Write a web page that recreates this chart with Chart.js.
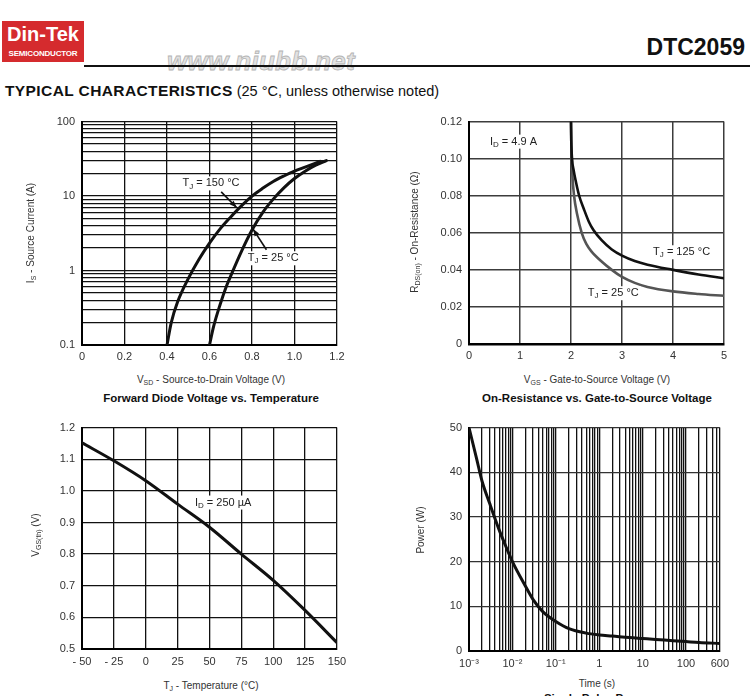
<!DOCTYPE html>
<html><head><meta charset="utf-8">
<script src="https://cdn.jsdelivr.net/npm/chart.js@4.4.1/dist/chart.umd.min.js"></script>
<style>
body{margin:0;background:#fff;width:750px;height:696px;overflow:hidden;position:relative;font-family:"Liberation Sans",Arial,sans-serif;color:#222}
.abs{position:absolute;white-space:nowrap}
canvas{position:absolute}
.c{transform:translate(-50%,-50%)}
.rot{transform:translate(-50%,-50%) rotate(-90deg)}
.ax{font-size:10px;color:#333}
.cap{font-size:11.5px;font-weight:bold;color:#111}
sub{font-size:7px;vertical-align:-2px;line-height:0}
</style></head><body>
<div class="abs" style="left:2px;top:21px;width:82px;height:41px;background:#d52b2e;"></div>
<div class="abs c" style="left:43px;top:34px;color:#fff;font-weight:bold;font-size:20px;">Din-Tek</div>
<div class="abs c" style="left:43px;top:53px;color:#fff;font-weight:bold;font-size:8px;letter-spacing:-0.2px;">SEMICONDUCTOR</div>
<div class="abs c" style="left:261px;top:61px;color:#e2e2e2;font-weight:bold;font-style:italic;font-size:26px;-webkit-text-stroke:0.8px #b4b4b4;letter-spacing:0.3px;">www.niubb.net</div>
<div class="abs" style="left:84px;top:65px;width:666px;height:2px;background:#111;"></div>
<div class="abs" style="right:5px;top:34px;font-weight:bold;font-size:23px;color:#111;">DTC2059</div>
<div class="abs" style="left:5px;top:82px;font-size:14.5px;color:#111;"><b style="font-size:15.5px;letter-spacing:0.4px;">TYPICAL CHARACTERISTICS</b> (25 °C, unless otherwise noted)</div>

<canvas id="c1" width="360" height="258" style="left:0px;top:108px"></canvas>
<canvas id="c2" width="360" height="258" style="left:375px;top:108px"></canvas>
<canvas id="c3" width="360" height="258" style="left:0px;top:414px"></canvas>
<canvas id="c4" width="360" height="258" style="left:375px;top:414px"></canvas>

<div class="abs rot ax" style="left:30px;top:233px;">I<sub>S</sub> - Source Current (A)</div>
<div class="abs c ax" style="left:211px;top:379px;">V<sub>SD</sub> - Source-to-Drain Voltage (V)</div>
<div class="abs c cap" style="left:211px;top:398px;">Forward Diode Voltage vs. Temperature</div>

<div class="abs rot ax" style="left:414px;top:232px;">R<sub>DS(on)</sub> - On-Resistance (Ω)</div>
<div class="abs c ax" style="left:597px;top:379px;">V<sub>GS</sub> - Gate-to-Source Voltage (V)</div>
<div class="abs c cap" style="left:597px;top:398px;">On-Resistance vs. Gate-to-Source Voltage</div>

<div class="abs rot ax" style="left:35px;top:535px;">V<sub>GS(th)</sub> (V)</div>
<div class="abs c ax" style="left:211px;top:685px;">T<sub>J</sub> - Temperature (°C)</div>

<div class="abs rot ax" style="left:420px;top:530px;">Power (W)</div>
<div class="abs c ax" style="left:597px;top:683px;">Time (s)</div>
<div class="abs c cap" style="left:597px;top:698px;">Single Pulse Power</div>

<script>
// ---------- data ----------
// Chart 1: forward diode
const vsd150 = [0.40,0.42,0.45,0.50,0.55,0.60,0.65,0.70,0.75,0.80,0.85,0.90,0.95,1.00,1.05,1.12];
const is150  = [0.10,0.20,0.38,0.78,1.41,2.34,3.63,5.25,7.4,10.0,12.7,15.7,18.6,21.6,24.5,29.2];
const vsd25  = [0.60,0.62,0.65,0.68,0.70,0.75,0.80,0.85,0.90,0.95,1.00,1.05,1.10,1.15];
const is25   = [0.10,0.18,0.35,0.62,0.85,1.8,3.5,6.0,9.1,12.9,17.2,21.6,26.0,30.0];
const fwdXTicks = [0,0.2,0.4,0.6,0.8,1.0,1.2];
const fwdXLabels = ['0','0.2','0.4','0.6','0.8','1.0','1.2'];
const fwdYMajor = [0.1,1,10,100];
const fwdYLabels = ['0.1','1','10','100'];

// Chart 2: on-resistance vs VGS
const vgs125 = [2.00,2.005,2.02,2.05,2.10,2.16,2.25,2.35,2.44,2.60,2.80,3.00,3.25,3.50,4.00,4.50,5.00];
const rds125 = [0.120,0.110,0.100,0.094,0.087,0.080,0.073,0.066,0.0615,0.056,0.051,0.0477,0.0448,0.0428,0.0400,0.0375,0.0355];
const vgs25  = [2.00,2.005,2.015,2.03,2.06,2.12,2.21,2.30,2.40,2.60,2.80,3.00,3.25,3.50,4.00,4.50,5.00];
const rds25  = [0.120,0.110,0.100,0.090,0.080,0.070,0.060,0.054,0.050,0.0445,0.0400,0.0362,0.0330,0.0308,0.0284,0.0270,0.0260];
const rdsXTicks = [0,1,2,3,4,5];
const rdsXLabels = ['0','1','2','3','4','5'];
const rdsYTicks = [0,0.02,0.04,0.06,0.08,0.10,0.12];
const rdsYLabels = ['0','0.02','0.04','0.06','0.08','0.10','0.12'];

// Chart 3: threshold voltage vs temperature
const tj  = [-50,-25,0,25,50,75,100,125,150];
const vth = [1.152,1.095,1.032,0.958,0.885,0.800,0.717,0.622,0.520];
const thXTicks = [-50,-25,0,25,50,75,100,125,150];
const thXLabels = ['- 50','- 25','0','25','50','75','100','125','150'];
const thYTicks = [0.5,0.6,0.7,0.8,0.9,1.0,1.1,1.2];
const thYLabels = ['0.5','0.6','0.7','0.8','0.9','1.0','1.1','1.2'];

// Chart 4: single pulse power
const tPulse = [0.001,0.0015,0.002,0.003,0.005,0.007,0.01,0.02,0.03,0.05,0.1,0.2,0.5,1,2,5,10,20,50,100,200,600];
const pPulse = [50,43,38,33,27,23.5,20,14.5,11.5,8.8,6.6,5.0,4.0,3.6,3.35,3.0,2.8,2.6,2.3,2.1,1.9,1.7];
const pwXMajor = [0.001,0.01,0.1,1,10,100,600];
const pwXLabels = ['10\u207B\u00B3','10\u207B\u00B2','10\u207B\u00B9','1','10','100','600'];
const pwYTicks = [0,10,20,30,40,50];
const pwYLabels = ['0','10','20','30','40','50'];

// ---------- helpers ----------
Chart.defaults.font.family = '"Liberation Sans", Arial, sans-serif';
Chart.defaults.font.size = 11;
Chart.defaults.color = '#333';

function logGrid(minExp, maxExp, maxVal){ // 1..9 x 10^k grid values
  const out=[];
  for(let e=minExp;e<=maxExp;e++) for(let m=1;m<=9;m++){
    const v=+(m*Math.pow(10,e)).toPrecision(6);
    if(v<=maxVal+1e-12) out.push(v);
  }
  return out;
}
function pts(xs,ys){return xs.map((x,i)=>({x:x,y:ys[i]}));}
function labelFor(vals,labels){return v=>{const i=vals.findIndex(t=>Math.abs(t-v)<=Math.abs(v)*1e-6+1e-12);return i>=0?labels[i]:'';};}

function drawRich(ctx,x,y,parts,align){
  const big='11px "Liberation Sans", Arial, sans-serif', small='8px "Liberation Sans", Arial, sans-serif';
  let w=0;
  parts.forEach(p=>{ctx.font=p[1]?small:big;w+=ctx.measureText(p[0]).width;});
  let cx = align==='left'?x:x-w/2;
  ctx.fillStyle='#fff';ctx.fillRect(cx-2,y-7,w+4,14);
  ctx.textBaseline='middle';ctx.textAlign='left';ctx.fillStyle='#222';
  parts.forEach(p=>{ctx.font=p[1]?small:big;ctx.fillText(p[0],cx,y+(p[1]?3:0));cx+=ctx.measureText(p[0]).width;});
}
function notes(items){
  return {id:'notes',afterDatasetsDraw(chart){
    const ctx=chart.ctx,xs=chart.scales.x,ys=chart.scales.y;
    ctx.save();
    items.forEach(it=>{
      drawRich(ctx,xs.getPixelForValue(it.x),ys.getPixelForValue(it.y),it.parts,it.align);
      if(it.arrow){
        const x1=xs.getPixelForValue(it.arrow[0]),y1=ys.getPixelForValue(it.arrow[1]);
        const x2=xs.getPixelForValue(it.arrow[2]),y2=ys.getPixelForValue(it.arrow[3]);
        ctx.strokeStyle='#111';ctx.lineWidth=1.6;ctx.beginPath();ctx.moveTo(x1,y1);ctx.lineTo(x2,y2);ctx.stroke();
        const a=Math.atan2(y2-y1,x2-x1),L=7,W=2.6;
        ctx.fillStyle='#111';ctx.beginPath();ctx.moveTo(x2,y2);
        ctx.lineTo(x2-L*Math.cos(a)+W*Math.sin(a),y2-L*Math.sin(a)-W*Math.cos(a));
        ctx.lineTo(x2-L*Math.cos(a)-W*Math.sin(a),y2-L*Math.sin(a)+W*Math.cos(a));
        ctx.closePath();ctx.fill();
      }
    });
    ctx.restore();
  }};
}
function axis(opts){
  return {
    type:opts.type||'linear',min:opts.min,max:opts.max,
    afterBuildTicks:s=>{s.ticks=opts.ticks.map(v=>({value:v}));},
    afterFit:s=>{ if(opts.w!==undefined) s.width=opts.w; if(opts.h!==undefined) s.height=opts.h; },
    ticks:{autoSkip:false,maxRotation:0,minRotation:0,padding:opts.pad,color:'#333',font:{size:11},callback:opts.cb},
    grid:{drawTicks:false,color:opts.gc||'#111',lineWidth:opts.glw||1.3},
    border:{display:true,color:'#000',width:opts.bw||2}
  };
}
function make(id,datasets,xs,ys,pad,plugins){
  return new Chart(document.getElementById(id),{
    type:'line',
    data:{datasets:datasets},
    options:{responsive:false,animation:false,devicePixelRatio:1,
      layout:{padding:pad},
      parsing:false,normalized:true,
      plugins:{legend:{display:false},tooltip:{enabled:false}},
      elements:{point:{radius:0},line:{cubicInterpolationMode:'monotone',borderCapStyle:'round'}},
      scales:{x:xs,y:ys}},
    plugins:plugins||[]
  });
}

// ---------- chart 1 ----------
const fwdYGrid = logGrid(-1,1,100).concat([100]);
make('c1',[
  {data:pts(vsd150,is150),borderColor:'#111',borderWidth:3},
  {data:pts(vsd25,is25),borderColor:'#111',borderWidth:3}
],
axis({min:0,max:1.2,ticks:fwdXTicks,cb:labelFor(fwdXTicks,fwdXLabels),h:21,pad:5}),
axis({type:'logarithmic',min:0.1,max:100,ticks:fwdYGrid,cb:labelFor(fwdYMajor,fwdYLabels),w:82,pad:7}),
{left:0,top:13,right:23,bottom:0},
[notes([
  {x:0.607,y:14.8,parts:[['T'],['J',1],[' = 150 °C']],arrow:[0.655,11.4,0.728,7.0]},
  {x:0.90,y:1.46,parts:[['T'],['J',1],[' = 25 °C']],arrow:[0.868,1.9,0.805,3.6]}
])]);

// ---------- chart 2 ----------
make('c2',[
  {data:pts(vgs125,rds125),borderColor:'#111',borderWidth:2.6},
  {data:pts(vgs25,rds25),borderColor:'#555',borderWidth:2.6}
],
axis({min:0,max:5,ticks:rdsXTicks,cb:labelFor(rdsXTicks,rdsXLabels),h:22,pad:5,gc:'#3c3c3c',glw:1.5,bw:2.5}),
axis({min:0,max:0.12,ticks:rdsYTicks,cb:labelFor(rdsYTicks,rdsYLabels),w:94,pad:7,gc:'#3c3c3c',glw:1.5,bw:2}),
{left:0,top:13,right:11,bottom:0},
[notes([
  {x:0.41,y:0.1092,align:'left',parts:[['I'],['D',1],[' = 4.9 A']]},
  {x:3.61,y:0.0495,align:'left',parts:[['T'],['J',1],[' = 125 °C']]},
  {x:2.33,y:0.0274,align:'left',parts:[['T'],['J',1],[' = 25 °C']]}
])]);

// ---------- chart 3 ----------
make('c3',[
  {data:pts(tj,vth),borderColor:'#111',borderWidth:3}
],
axis({min:-50,max:150,ticks:thXTicks,cb:labelFor(thXTicks,thXLabels),h:23,pad:6}),
axis({min:0.5,max:1.2,ticks:thYTicks,cb:labelFor(thYTicks,thYLabels),w:82,pad:7}),
{left:0,top:13,right:23,bottom:0},
[notes([
  {x:38.6,y:0.963,align:'left',parts:[['I'],['D',1],[' = 250 µA']]}
])]);

// ---------- chart 4 ----------
const pwXGrid = logGrid(-3,2,600);
make('c4',[
  {data:pts(tPulse,pPulse),borderColor:'#111',borderWidth:3}
],
axis({type:'logarithmic',min:0.001,max:600,ticks:pwXGrid,cb:labelFor(pwXMajor,pwXLabels),h:21,pad:6,gc:'#111',glw:1.3}),
axis({min:0,max:50,ticks:pwYTicks,cb:labelFor(pwYTicks,pwYLabels),w:94,pad:7,gc:'#333',glw:1.3}),
{left:0,top:13,right:11,bottom:0});
</script>
</body></html>
